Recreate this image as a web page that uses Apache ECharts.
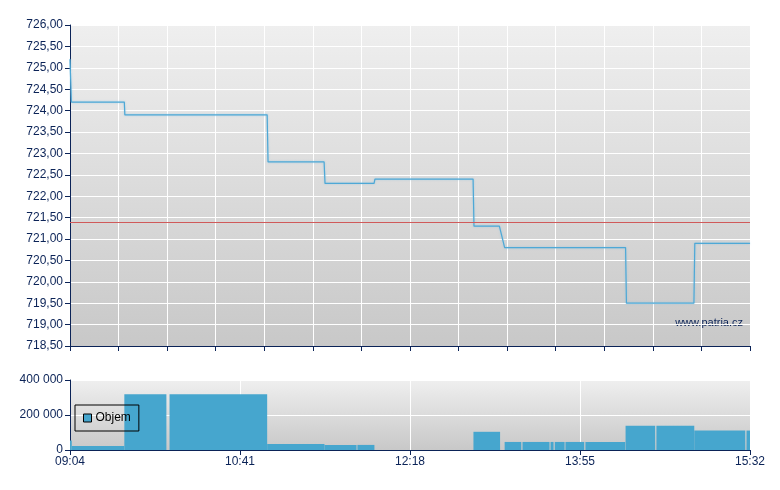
<!DOCTYPE html>
<html>
<head>
<meta charset="utf-8">
<script src="https://cdn.jsdelivr.net/npm/echarts@6/dist/echarts.min.js"></script>
<style>
  html, body { margin: 0; padding: 0; background: #fff; }
  #chart { width: 780px; height: 490px; }
</style>
</head>
<body>
<div id="chart"></div>
<script>
// minutes since 09:04
const startMinute = 9 * 60 + 4
const sessionLength = 388

const priceTimes = [0, 0.8, 31, 31.3, 112.5, 113, 145, 145.5, 173.5, 174, 230, 230.5, 245, 248, 317, 317.5, 356, 356.5, 388]
const prices = [725.2, 724.2, 724.2, 723.9, 723.9, 722.8, 722.8, 722.3, 722.3, 722.4, 722.4, 721.3, 721.3, 720.8, 720.8, 719.5, 719.5, 720.9, 720.9]
const prevClose = 721.4

const volStart = [0, 1, 31, 56.8, 112.5, 145.2, 164, 230.2, 248, 258.2, 274.2, 276.6, 282.7, 294.1, 317, 334.6, 356.2, 386]
const volEnd = [1, 31, 55, 112.5, 145.2, 163.5, 173.7, 245.4, 257.5, 273.6, 275.9, 282.2, 293.4, 316.8, 333.9, 356.2, 385.3, 388]
const volumes = [54000, 23000, 319000, 319000, 35000, 29000, 29000, 104000, 46000, 46000, 46000, 46000, 46000, 46000, 138500, 138500, 111000, 111000]

const navy = '#0b2357'
const font = 'Liberation Sans, Arial, sans-serif'

const bg = {
  type: 'linear', x: 0, y: 0, x2: 0, y2: 1,
  colorStops: [{ offset: 0, color: '#efefef' }, { offset: 1, color: '#c8c8c8' }]
}

function fmtTime(m) {
  const t = Math.round(startMinute + m)
  const h = Math.floor(t / 60)
  const mm = t % 60
  return (h < 10 ? '0' : '') + h + ':' + (mm < 10 ? '0' : '') + mm
}

function fmtPrice(v) {
  return v.toFixed(2).replace('.', ',')
}

function fmtVol(v) {
  return String(Math.round(v)).replace(/\B(?=(\d{3})+(?!\d))/g, ' ')
}

const axisLine = { lineStyle: { color: navy, width: 1 } }
const axisTick = { show: true, inside: false, length: 5, lineStyle: { color: navy } }
const splitLine = { show: true, lineStyle: { color: '#ffffff', width: 1 } }
const labelStyle = { color: navy, fontFamily: font, fontSize: 12 }

const chart = echarts.init(document.getElementById('chart'))
chart.setOption({
  animation: false,
  backgroundColor: '#ffffff',
  grid: [
    { left: 70, right: 30, top: 25, height: 321, show: true, backgroundColor: bg, borderWidth: 0 },
    { left: 70, right: 30, top: 380, height: 70, show: true, backgroundColor: bg, borderWidth: 0 }
  ],
  xAxis: [
    {
      type: 'value', gridIndex: 0, min: 0, max: sessionLength, interval: sessionLength / 14,
      axisLine: axisLine, axisTick: axisTick, splitLine: splitLine,
      axisLabel: { show: false }
    },
    {
      type: 'value', gridIndex: 1, min: 0, max: sessionLength, interval: 97,
      axisLine: axisLine, axisTick: axisTick, splitLine: splitLine,
      axisLabel: Object.assign({ margin: 6, formatter: fmtTime }, labelStyle)
    }
  ],
  yAxis: [
    {
      type: 'value', gridIndex: 0, min: 718.5, max: 726, interval: 0.5,
      axisLine: Object.assign({ show: true }, axisLine), axisTick: axisTick, splitLine: splitLine,
      axisLabel: Object.assign({ margin: 7, formatter: fmtPrice }, labelStyle)
    },
    {
      type: 'value', gridIndex: 1, min: 0, max: 400000, interval: 200000,
      axisLine: Object.assign({ show: true }, axisLine), axisTick: axisTick, splitLine: splitLine,
      axisLabel: Object.assign({ margin: 7, formatter: fmtVol }, labelStyle)
    }
  ],
  legend: {
    data: [{ name: 'Objem', icon: 'rect' }],
    left: 75, top: 405,
    orient: 'vertical',
    padding: [7, 8, 7, 8],
    borderColor: '#000000', borderWidth: 1,
    itemWidth: 8, itemHeight: 8, itemGap: 4,
    itemStyle: { borderColor: '#000000', borderWidth: 1 },
    textStyle: { color: '#000000', fontFamily: font, fontSize: 12, padding: [0, 0, 0, -1] },
    selectedMode: false
  },
  graphic: [
    {
      type: 'text', right: 37, top: 317,
      style: { text: 'www.patria.cz', fill: navy, font: '11px ' + font }
    }
  ],
  series: [
    {
      type: 'line', xAxisIndex: 0, yAxisIndex: 0,
      data: priceTimes.map((t, i) => [t, prices[i]]),
      symbol: 'none',
      lineStyle: { color: '#4ea8d6', width: 1.2, shadowColor: 'rgba(120,190,225,0.6)', shadowBlur: 2 },
      markLine: {
        silent: true, symbol: 'none', label: { show: false },
        lineStyle: { color: '#d05a5a', width: 1, type: 'solid' },
        data: [{ yAxis: prevClose }]
      },
      z: 3
    },
    {
      name: 'Objem',
      type: 'custom', xAxisIndex: 1, yAxisIndex: 1,
      itemStyle: { color: '#46a6ce' },
      data: volStart.map((s, i) => [s, volEnd[i], volumes[i]]),
      renderItem: (params, api) => {
        const p0 = api.coord([api.value(0), api.value(2)])
        const p1 = api.coord([api.value(1), 0])
        return {
          type: 'rect',
          shape: { x: p0[0], y: p0[1], width: p1[0] - p0[0], height: p1[1] - p0[1] },
          style: { fill: '#46a6ce' }
        }
      },
      encode: { x: [0, 1], y: 2 }
    }
  ]
})
</script>
</body>
</html>
